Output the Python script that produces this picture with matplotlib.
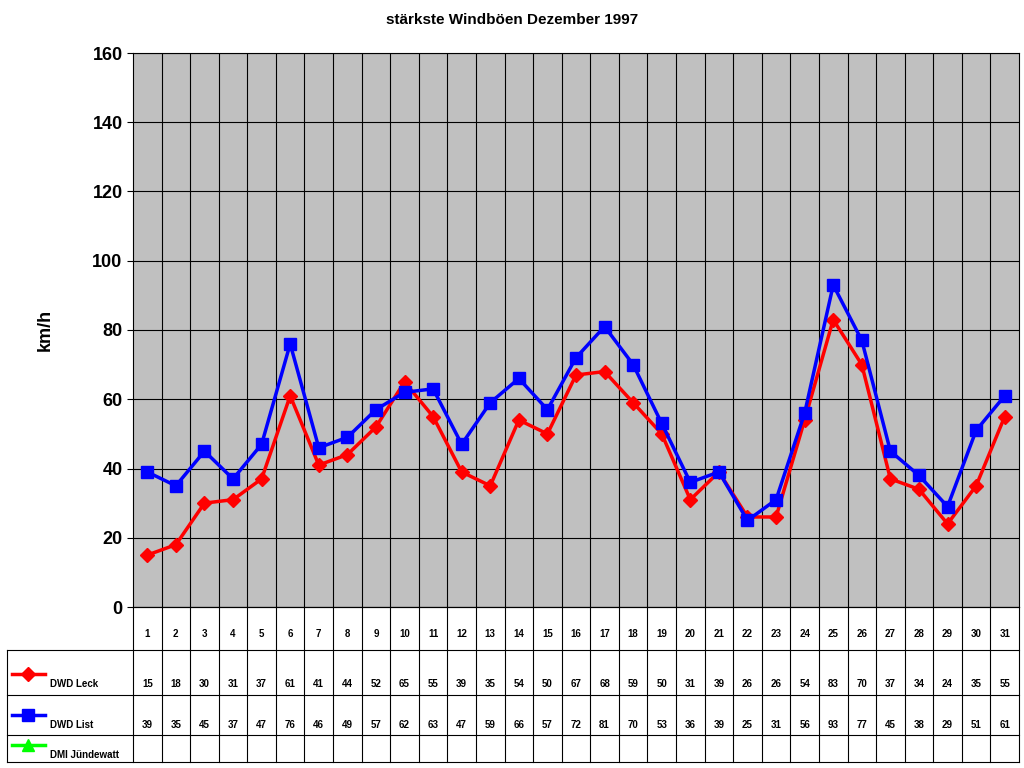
import matplotlib
matplotlib.use('Agg')
import matplotlib.pyplot as plt
import numpy as np

plt.rcParams['font.family'] = ['Liberation Sans', 'DejaVu Sans']

days = list(range(1, 32))
leck = [15, 18, 30, 31, 37, 61, 41, 44, 52, 65, 55, 39, 35, 54, 50, 67, 68, 59, 50, 31,
        39, 26, 26, 54, 83, 70, 37, 34, 24, 35, 55]
lst = [39, 35, 45, 37, 47, 76, 46, 49, 57, 62, 63, 47, 59, 66, 57, 72, 81, 70, 53, 36,
       39, 25, 31, 56, 93, 77, 45, 38, 29, 51, 61]
series = [('DWD Leck', leck, 'red', 'D', 7), ('DWD List', lst, 'blue', 's', 8),
          ('DMI Jündewatt', None, 'lime', '^', 8)]

W, H = 1024, 768
L, R, T, B = 133, 1019, 53, 607
fig = plt.figure(figsize=(W / 100, H / 100), dpi=100)
ax = fig.add_axes([L / W, 1 - B / H, (R - L) / W, (B - T) / H])
ax.set_facecolor('#c0c0c0')
ax.set_xlim(0.5, 31.5)
ax.set_ylim(0, 160)
ax.set_yticks(range(0, 161, 20))
ax.set_xticks(np.arange(1.5, 31, 1), minor=False)
ax.set_xticklabels([])
ax.tick_params(axis='x', length=0)
ax.tick_params(axis='y', labelsize=13, length=4, direction='out')
for lab in ax.get_yticklabels():
    lab.set_fontweight('bold')
ax.grid(True, color='black', linewidth=0.8)
for sp in ax.spines.values():
    sp.set_color('black')
ax.plot(days, leck, color='red', marker='D', markersize=7, linewidth=2.5)
ax.plot(days, lst, color='blue', marker='s', markersize=8, linewidth=2.5)
ax.set_ylabel('km/h', fontsize=13, fontweight='bold', labelpad=28)
fig.text(0.5, 1 - 20 / H, 'stärkste Windböen Dezember 1997', ha='center', va='center',
         fontsize=11, fontweight='bold')

# data table below the chart
tb = fig.add_axes([0, 0, 1, 1], facecolor='none')
tb.set_xlim(0, W)
tb.set_ylim(H, 0)
tb.axis('off')
rows_y = [607, 650, 695, 735, 762]
colw = (R - L) / 31
for y in rows_y[1:]:
    tb.plot([7, R], [y, y], color='black', lw=0.8)
tb.plot([L, R], [rows_y[0], rows_y[0]], color='black', lw=0.8)
tb.plot([7, 7], [rows_y[1], rows_y[-1]], color='black', lw=0.8)
for i in range(32):
    x = L + i * colw
    tb.plot([x, x], [rows_y[0], rows_y[-1]], color='black', lw=0.8)
for i, d in enumerate(days):
    tb.text(L + (i + 0.5) * colw, 634, str(d), ha='center', va='center', fontsize=7, fontweight='bold')
for r, (name, vals, col, mk, ms) in enumerate(series):
    ytop, ybot = rows_y[r + 1], rows_y[r + 2]
    ym = ytop + (ybot - ytop) * 0.75
    tb.plot([12, 45], [ym - 10, ym - 10], color=col, lw=2.5)
    tb.plot([28], [ym - 10], color=col, marker=mk, markersize=ms)
    tb.text(50, ym, name, ha='left', va='center', fontsize=7, fontweight='bold')
    if vals:
        for i, v in enumerate(vals):
            tb.text(L + (i + 0.5) * colw, ym, str(v), ha='center', va='center', fontsize=7,
                    fontweight='bold')

fig.savefig('out.png', dpi=100)
